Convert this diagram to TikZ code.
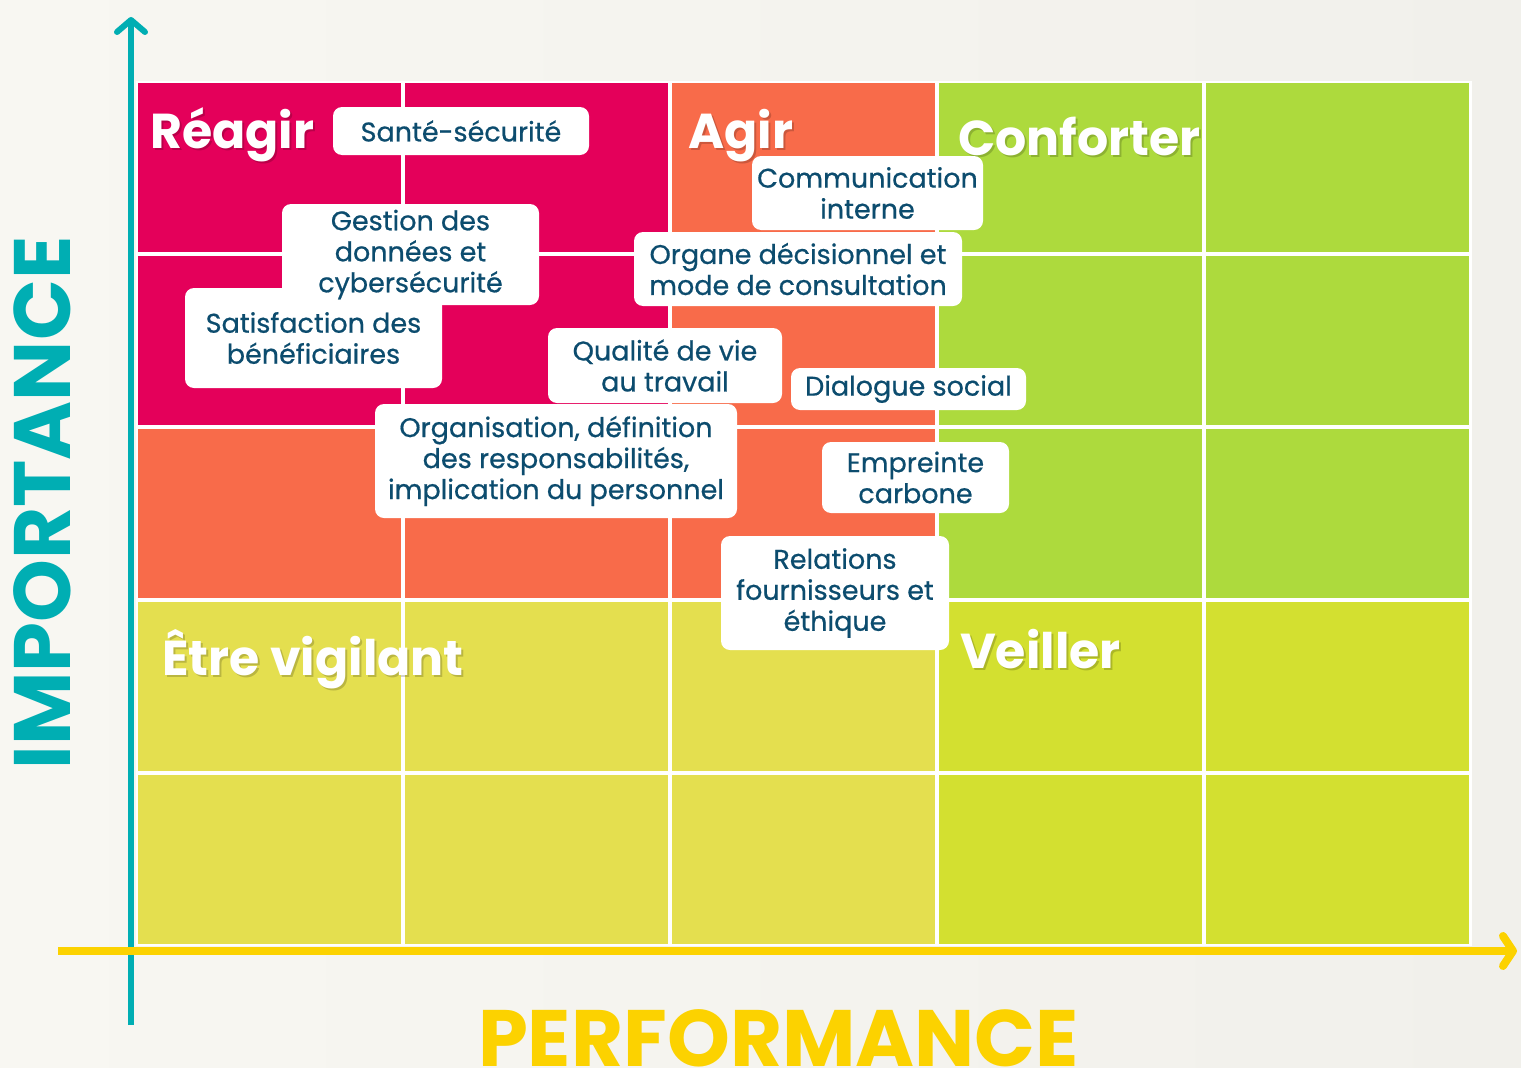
\documentclass[tikz,border=0pt]{standalone}
\usepackage{fontspec}
\setmainfont{Poppins}
\newfontfamily\tagfont{Poppins}[FakeBold=0.6]
\usetikzlibrary{arrows.meta}
\definecolor{bgcol}{HTML}{F8F7F2}
\definecolor{bgcolb}{HTML}{F1F0EB}
\definecolor{mag}{HTML}{E4005A}
\definecolor{ora}{HTML}{F86B4A}
\definecolor{grn}{HTML}{ADDA3D}
\definecolor{yel}{HTML}{E4DF4F}
\definecolor{ygr}{HTML}{D3E030}
\definecolor{axteal}{HTML}{00AEB3}
\definecolor{axyel}{HTML}{FCD200}
\definecolor{txtcol}{HTML}{0C4C6E}
\tikzset{
  cell/.style={anchor=north west, minimum width=263pt, minimum height=169pt, inner sep=0pt, draw=none},
  tag/.style={fill=white, rounded corners=9pt, inner sep=0pt, align=center, text=txtcol,
    font=\tagfont\fontsize{27}{31}\selectfont},
  biglab/.style={anchor=base west, inner sep=0pt, text=white, font=\bfseries\fontsize{49}{60}\selectfont},
  bigshadow/.style={anchor=base west, inner sep=0pt, text=black, opacity=0.18, font=\bfseries\fontsize{49}{60}\selectfont},
}
\begin{document}
\begin{tikzpicture}[x=1pt,y=-1pt]
\useasboundingbox (0,0) rectangle (1521,1068);
\shade[left color=bgcol, right color=bgcolb] (0,0) rectangle (1521,1068);
% grid
\fill[white] (136,81) rectangle (1472,946);
\node[cell, fill=mag] (c11) at (138,83) {};
\node[cell, fill=mag] (c12) at (405,83) {};
\node[cell, fill=ora] (c13) at (672,83) {};
\node[cell, fill=grn] (c14) at (939,83) {};
\node[cell, fill=grn] (c15) at (1206,83) {};
\node[cell, fill=mag] (c21) at (138,256) {};
\node[cell, fill=mag] (c22) at (405,256) {};
\node[cell, fill=ora] (c23) at (672,256) {};
\node[cell, fill=grn] (c24) at (939,256) {};
\node[cell, fill=grn] (c25) at (1206,256) {};
\node[cell, fill=ora] (c31) at (138,429) {};
\node[cell, fill=ora] (c32) at (405,429) {};
\node[cell, fill=ora] (c33) at (672,429) {};
\node[cell, fill=grn] (c34) at (939,429) {};
\node[cell, fill=grn] (c35) at (1206,429) {};
\node[cell, fill=yel] (c41) at (138,602) {};
\node[cell, fill=yel] (c42) at (405,602) {};
\node[cell, fill=yel] (c43) at (672,602) {};
\node[cell, fill=ygr] (c44) at (939,602) {};
\node[cell, fill=ygr] (c45) at (1206,602) {};
\node[cell, fill=yel] (c51) at (138,775) {};
\node[cell, fill=yel] (c52) at (405,775) {};
\node[cell, fill=yel] (c53) at (672,775) {};
\node[cell, fill=ygr] (c54) at (939,775) {};
\node[cell, fill=ygr] (c55) at (1206,775) {};
% axes
\coordinate (vbot) at (131,1025);
\coordinate (vtop) at (131,17);
\draw[axteal, line width=6pt, -{Straight Barb[length=12pt, width=28pt, line cap=round, line join=round]}] (vbot) -- (vtop);
\coordinate (hleft) at (58,951);
\coordinate (hright) at (1517,951);
\draw[axyel, line width=8pt, -{Straight Barb[length=10pt, width=30pt, line cap=round, line join=round]}] (hleft) -- (hright);
% quadrant labels
\node[bigshadow] (reagirS) at (152,150) {Réagir};
\node[biglab] (reagir) at (150,148) {Réagir};
\node[bigshadow] (agirS) at (690,150) {Agir};
\node[biglab] (agir) at (688,148) {Agir};
\node[bigshadow] (confS) at (960,157) {Conforter};
\node[biglab] (conf) at (958,155) {Conforter};
\node[bigshadow] (vigS) at (164,677) {Être vigilant};
\node[biglab] (vig) at (162,675) {Être vigilant};
\node[bigshadow] (veilS) at (962,670) {Veiller};
\node[biglab] (veil) at (960,668) {Veiller};
% tags
\node[tag, minimum width=256pt, minimum height=48pt] (sante) at (461,131) {Santé-sécurité};
\node[tag, minimum width=257pt, minimum height=100pt] (satisf) at (313.5,338) {Satisfaction des\\bénéficiaires};
\node[tag, minimum width=257pt, minimum height=101pt] (gestion) at (410.5,254.5) {Gestion des\\données et\\cybersécurité};
\node[tag, minimum width=234pt, minimum height=75pt] (qualite) at (665,365.5) {Qualité de vie\\au travail};
\node[tag, minimum width=362pt, minimum height=114pt] (orga) at (556,461) {Organisation, définition\\des responsabilités,\\implication du personnel};
\node[tag, minimum width=231pt, minimum height=74pt] (comm) at (867.5,193) {Communication\\interne};
\node[tag, minimum width=328pt, minimum height=74pt] (organe) at (798,269) {Organe décisionnel et\\mode de consultation};
\node[tag, minimum width=235pt, minimum height=42pt] (dialogue) at (908.5,389) {Dialogue social};
\node[tag, minimum width=187pt, minimum height=71pt] (empreinte) at (915.5,477.5) {Empreinte\\carbone};
\node[tag, minimum width=228pt, minimum height=114pt] (relations) at (835,593) {Relations\\fournisseurs et\\éthique};
% axis titles
\node[rotate=90, inner sep=0pt, text=axteal, font=\bfseries\fontsize{80}{90}\selectfont] (imp) at (42,503) {IMPORTANCE};
\node[anchor=base, inner sep=0pt, text=axyel, font=\bfseries\fontsize{80}{90}\selectfont] (perf) at (778.5,1066) {PERFORMANCE};
\end{tikzpicture}
\end{document}
